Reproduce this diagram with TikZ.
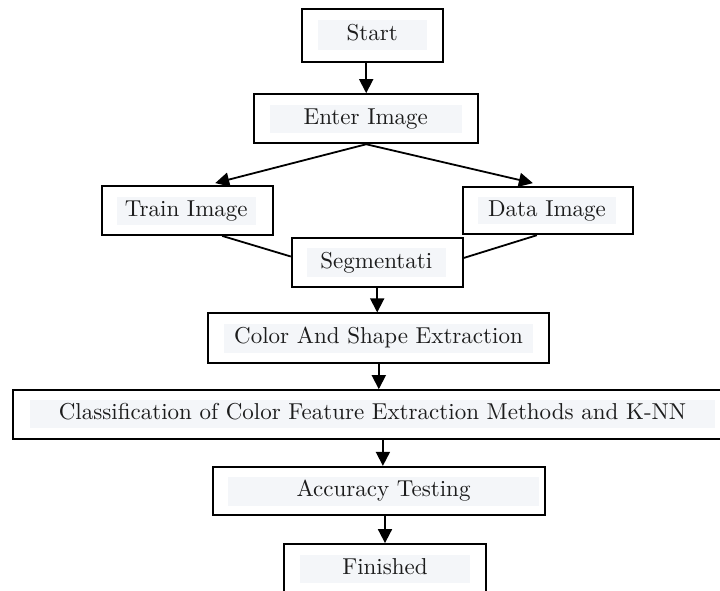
\documentclass[tikz,border=0pt]{standalone}
\usepackage{fontspec}
\setmainfont{lmroman10-regular}[Extension=.otf]
\usetikzlibrary{arrows.meta,calc}
\definecolor{labelbg}{RGB}{244,246,249}
\definecolor{ink}{RGB}{28,28,28}
\begin{document}
\begin{tikzpicture}[x=1pt,y=-1pt,
  box/.style n args={2}{draw=black,line width=1.8pt,minimum width=#1,minimum height=#2,inner sep=0pt},
  lbl/.style n args={2}{fill=labelbg,text=ink,minimum width=#1,minimum height=#2,inner sep=0pt,
    text height=16pt,text depth=5pt,font=\fontsize{23}{27}\selectfont},
  arr/.style={line width=1.8pt,-{Triangle[length=14pt,width=14pt]}},
  link/.style={line width=1.8pt}]
\useasboundingbox (0,0) rectangle (720,590);
\clip (0,0) rectangle (720,590);
\fill[white] (0,0) rectangle (720,590);

% process boxes
\node[box={141}{53}]     (start) at (372.2,35.8)  {};
\node[box={224.3}{49.3}] (enter) at (366.2,118.7) {};
\node[box={171}{49}]     (train) at (187.2,210.5) {};
\node[box={170.3}{47.6}] (data)  at (547.9,210.5) {};
\node[box={171}{48.4}]   (seg)   at (377.2,262.5) {};
\node[box={341}{49.4}]   (color) at (378.8,338)   {};
\node[box={718.4}{49.3}] (class) at (372.5,414.7) {};
\node[box={332.3}{48.3}] (acc)   at (378.9,490.9) {};
\node[box={201.4}{50}]   (fin)   at (385,569)     {};

% shaded labels
\node[lbl={108.7}{30}]   (startt) at (372.3,35)    {Start};
\node[lbl={191.7}{28}]   (entert) at (365.8,119)   {Enter Image};
\node[lbl={139.3}{28}]   (traint) at (186.3,211)   {Train Image};
\node[lbl={138}{27}]     (datat)  at (547,210.5)   {Data Image};
\node[lbl={139.3}{29}]   (segt)   at (376.3,262.5) {Segmentati};
\node[lbl={308.4}{28.7}] (colort) at (378.5,338.3) {Color And Shape Extraction};
\node[lbl={685}{28}]     (classt) at (372.5,414)   {Classification of Color Feature Extraction Methods and K-NN};
\node[lbl={311}{28.7}]   (acct)   at (383.5,491.3) {Accuracy Testing};
\node[lbl={170}{28}]     (fint)   at (385,569)     {Finished};

% arrow targets above the two image boxes
\coordinate (tl) at ($(train.north)+(28,-2)$);
\coordinate (tr) at ($(data.north)+(-15,-2.7)$);

% connectors
\draw[arr] (enter.north |- start.south) -- (enter.north);
\draw[arr] (enter.south) -- (tl);
\draw[arr] (enter.south) -- (tr);
\draw[link] ([xshift=35pt]train.south) -- ([yshift=6pt]seg.west);
\draw[link] ([xshift=-11pt]data.south) -- ([yshift=4.5pt]seg.east);
\draw[arr] (seg.south) -- (seg.south |- color.north);
\draw[arr] (color.south) -- (color.south |- class.north);
\draw[arr] ([xshift=4pt]acc.north |- class.south) -- ([xshift=4pt]acc.north);
\draw[arr] (fin.north |- acc.south) -- (fin.north);
\end{tikzpicture}
\end{document}
